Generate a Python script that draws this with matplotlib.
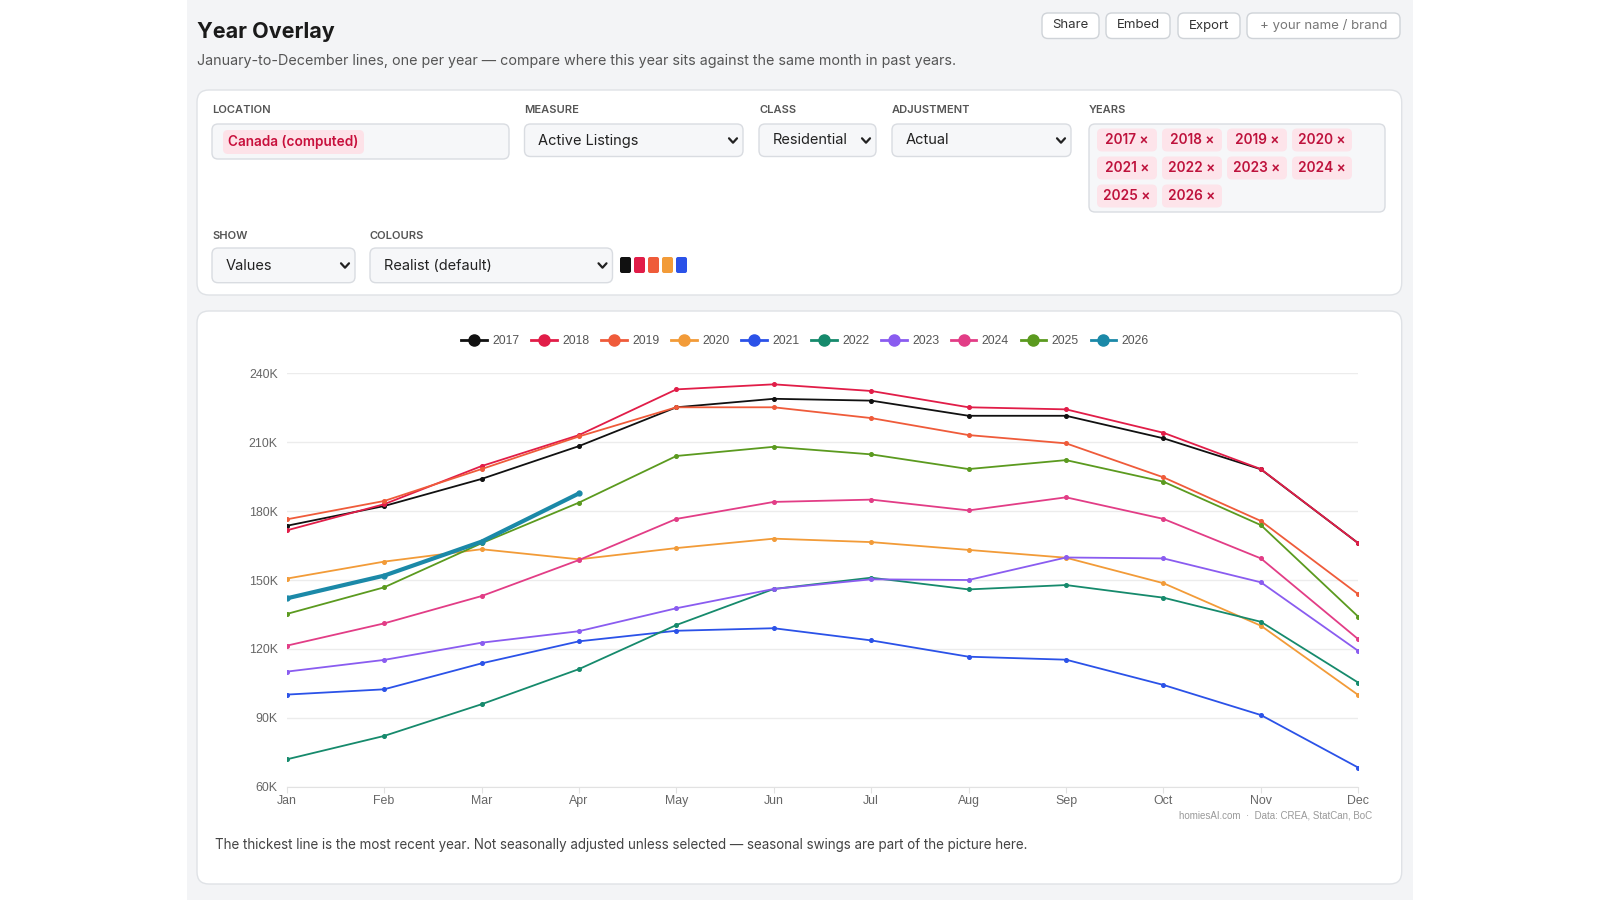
import matplotlib
matplotlib.use('Agg')
import matplotlib.pyplot as plt
from matplotlib.patches import FancyBboxPatch, Rectangle
from matplotlib.lines import Line2D
from matplotlib.ticker import FuncFormatter

# chart data (active listings, thousands)
months = ['Jan', 'Feb', 'Mar', 'Apr', 'May', 'Jun', 'Jul', 'Aug', 'Sep', 'Oct', 'Nov', 'Dec']
years = ['2017', '2018', '2019', '2020', '2021', '2022', '2023', '2024', '2025', '2026']
v2017 = [173.6, 182.2, 194.0, 208.3, 225.2, 228.9, 228.1, 221.5, 221.5, 211.7, 198.2, 166.0]
v2018 = [171.6, 183.0, 199.6, 213.1, 233.0, 235.2, 232.3, 225.2, 224.3, 214.1, 198.3, 166.0]
v2019 = [176.4, 184.4, 198.3, 212.5, 225.2, 225.2, 220.5, 213.1, 209.5, 194.7, 175.7, 143.8]
v2020 = [150.6, 158.0, 163.4, 159.0, 163.9, 168.0, 166.5, 163.1, 159.7, 148.6, 130.1, 99.9]
v2021 = [100.1, 102.4, 113.7, 123.3, 127.9, 129.0, 123.7, 116.6, 115.3, 104.3, 91.2, 68.3]
v2022 = [71.9, 82.1, 95.9, 111.2, 130.4, 146.1, 151.0, 145.9, 147.8, 142.3, 131.8, 105.3]
v2023 = [110.1, 115.2, 122.7, 127.7, 137.7, 146.1, 150.3, 150.0, 159.8, 159.4, 149.0, 119.1]
v2024 = [121.4, 131.1, 143.0, 158.7, 176.6, 184.0, 185.0, 180.3, 186.0, 176.6, 159.4, 124.2]
v2025 = [135.2, 146.8, 166.0, 183.7, 204.0, 208.0, 204.7, 198.3, 202.2, 192.8, 173.9, 134.0]
v2026 = [142.0, 151.9, 166.7, 187.7]
series = [v2017, v2018, v2019, v2020, v2021, v2022, v2023, v2024, v2025, v2026]
colors = ['#111111', '#e11d48', '#ef5b3a', '#f29b38', '#2b52e8',
          '#168a6c', '#8a5cf0', '#e23d86', '#5b9a1f', '#1b89a8']
yticks = [60, 90, 120, 150, 180, 210, 240]

UI = ['Inter', 'DejaVu Sans']
CH = ['Liberation Sans', 'DejaVu Sans']

fig = plt.figure(figsize=(16, 9), dpi=100)
fig.patch.set_facecolor('white')

# background canvas in pixel coords (y down)
bg = fig.add_axes([0, 0, 1, 1])
bg.set_xlim(0, 1600)
bg.set_ylim(900, 0)
bg.axis('off')

def box(x, y, w, h, fc, ec, r=6, lw=1.0):
    bg.add_patch(FancyBboxPatch((x, y), w, h, boxstyle="round,pad=0,rounding_size=%s" % r,
                                fc=fc, ec=ec, lw=lw))

def chevron(x, y):
    bg.plot([x - 4, x, x + 4], [y - 2.2, y + 2.2, y - 2.2], color='#222222', lw=1.6,
            solid_capstyle='round', solid_joinstyle='round')

def label(x, y, s):
    bg.text(x, y, s, family=UI, fontsize=8, weight='semibold', color='#555555', va='center')

bg.add_patch(Rectangle((187, 0), 1226, 900, fc='#f3f4f6', ec='none'))

# header
bg.text(197, 32, 'Year Overlay', family=UI, fontsize=15.5, weight='bold', color='#1a1a1a', va='center')
bg.text(197, 61, 'January-to-December lines, one per year \u2014 compare where this year sits against the same month in past years.',
        family=UI, fontsize=10.3, color='#555555', va='center')

for bx, bw, bt, tc in [(1042, 57, 'Share', '#333333'), (1106, 64, 'Embed', '#333333'),
                       (1178, 62, 'Export', '#333333'), (1247, 153, '+ your name / brand', '#777777')]:
    box(bx, 13, bw, 25.5, 'white', '#cfd3d8', r=6)
    bg.text(bx + bw / 2, 25.5, bt, family=UI, fontsize=9.5, color=tc, ha='center', va='center')

# controls panel
box(197, 90, 1204.7, 205, 'white', '#dfe2e6', r=12)
label(212, 110, 'LOCATION')
label(524.5, 110, 'MEASURE')
label(759, 110, 'CLASS')
label(892, 110, 'ADJUSTMENT')
label(1089, 110, 'YEARS')
label(212, 236, 'SHOW')
label(370, 236, 'COLOURS')

inp_fc, inp_ec = '#f6f7f9', '#d9dce1'
box(212, 124, 297, 35, inp_fc, inp_ec, r=6)
box(223, 130, 141, 24, '#fde2e8', 'none', r=5)
bg.text(228, 142, 'Canada (computed)', family=UI, fontsize=9.8, weight='semibold', color='#c8103c', va='center')

for sx, sw, st in [(524.5, 218.5, 'Active Listings'), (759, 117, 'Residential'), (892, 179, 'Actual')]:
    box(sx, 124, sw, 32.5, inp_fc, inp_ec, r=6)
    bg.text(sx + 14, 140.5, st, family=UI, fontsize=10.5, color='#222222', va='center')
    chevron(sx + sw - 10, 140.5)

for sx, sw, st in [(212, 143, 'Values'), (370, 242.5, 'Realist (default)')]:
    box(sx, 248, sw, 34.7, inp_fc, inp_ec, r=6)
    bg.text(sx + 14, 265.5, st, family=UI, fontsize=10.5, color='#222222', va='center')
    chevron(sx + sw - 10, 265.5)

for i, c in enumerate(colors[:5]):
    box(620 + i * 14, 257, 11, 16, c, 'none', r=2)

box(1089, 124, 296, 88, inp_fc, inp_ec, r=6)
for i, yr in enumerate(years):
    row, col = divmod(i, 4)
    cx = 1097 + col * 65
    cy = 128.5 + row * 28
    box(cx, cy, 60, 23, '#fde4ea', 'none', r=5)
    bg.text(cx + 30, cy + 11.5, yr + ' \u00d7', family=UI, fontsize=9.8, weight='semibold',
            color='#be123c', ha='center', va='center')

# chart panel
box(197, 311, 1204.7, 573, 'white', '#dfe2e6', r=12)
bg.text(215, 845, 'The thickest line is the most recent year. Not seasonally adjusted unless selected \u2014 seasonal swings are part of the picture here.',
        family=UI, fontsize=9.65, color='#444444', va='center')
bg.text(1372, 815, 'homiesAI.com  \u00b7  Data: CREA, StatCan, BoC', family=CH, fontsize=7,
        color='#999999', ha='right', va='center')

ax = fig.add_axes([286.7 / 1600, 1 - 786.7 / 900, (1358.3 - 286.7) / 1600, (786.7 - 373.3) / 900])
ax.set_facecolor('none')
for yr, vals, c in zip(years, series, colors):
    lw = 3.0 if yr == years[-1] else 1.3
    ax.plot(range(len(vals)), vals, color=c, lw=lw, marker='o', ms=2.6 if lw < 2 else 3.5,
            solid_joinstyle='round', zorder=3)

ax.set_xlim(0, 11)
ax.set_ylim(60, 240)
ax.set_xticks(range(12))
ax.set_xticklabels(months)
ax.set_yticks(yticks)
ax.yaxis.set_major_formatter(FuncFormatter(lambda v, p: '%dK' % v))
ax.grid(axis='y', color='#ececec', lw=1)
ax.set_axisbelow(True)
for s in ['top', 'right', 'left']:
    ax.spines[s].set_visible(False)
ax.spines['bottom'].set_color('#e2e2e2')
ax.tick_params(axis='y', length=0, pad=6.5, labelsize=8.9, labelcolor='#666666')
ax.tick_params(axis='x', length=4, color='#e2e2e2', pad=2, labelsize=8.9, labelcolor='#666666')
for t in ax.get_xticklabels() + ax.get_yticklabels():
    t.set_family(CH)

handles = [Line2D([0], [0], color=c, lw=2, marker='o', ms=8) for c in colors]
fig.legend(handles, years, loc='center', bbox_to_anchor=(805 / 1600, 1 - 341 / 900), ncol=10,
           frameon=False, handlelength=2.1, handletextpad=0.45, columnspacing=0.95,
           prop={'family': CH, 'size': 8.8}, labelcolor='#555555')

fig.savefig('out.png', dpi=100)
